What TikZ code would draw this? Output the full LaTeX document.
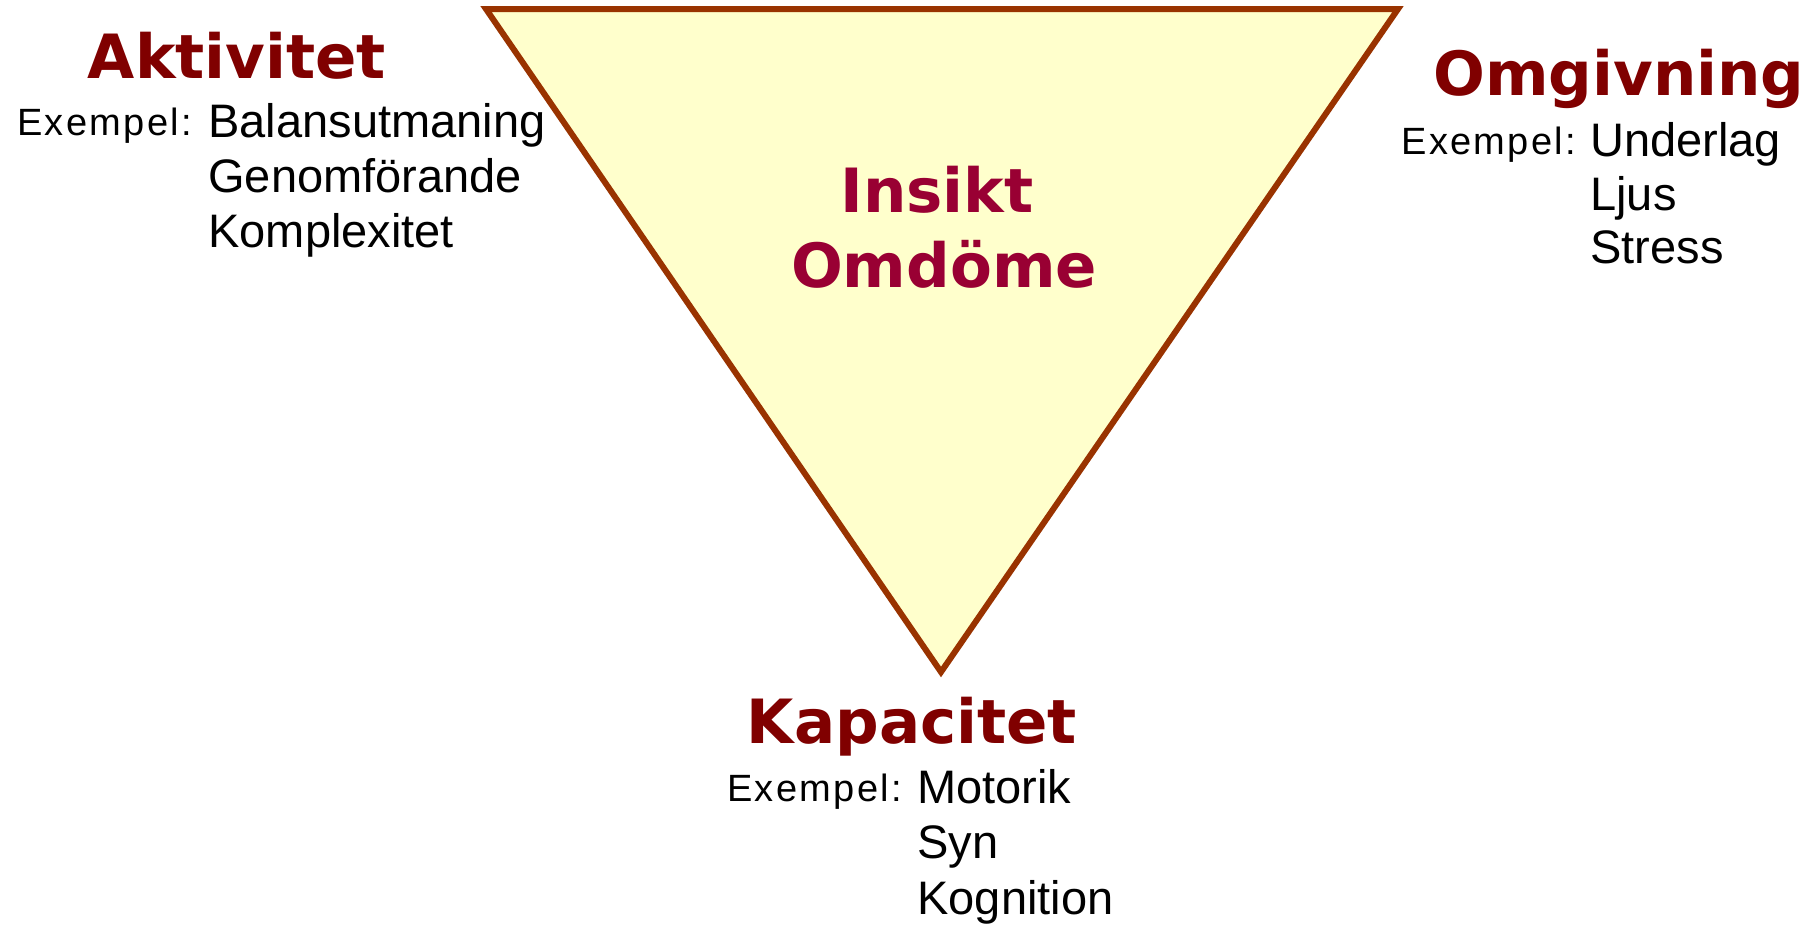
\documentclass[tikz,border=0pt]{standalone}
\usepackage{fontspec}
\newfontfamily\headfont{DejaVu Sans}
\newfontfamily\itemfont{Liberation Sans}
\newfontfamily\exfont[LetterSpace=6]{Liberation Sans}
\definecolor{headred}{HTML}{800000}
\definecolor{insred}{HTML}{990033}
\definecolor{tribrown}{HTML}{993300}
\definecolor{trifill}{HTML}{FFFFCC}
\begin{document}
\begin{tikzpicture}[x=0.5pt,y=-0.5pt,
  tri/.style={draw=tribrown, fill=trifill, line width=3pt, line join=miter},
  head/.style={anchor=base, text=headred, inner sep=0pt, font=\headfont\bfseries\fontsize{30.5}{36}\selectfont},
  ins/.style={anchor=base, text=insred, inner sep=0pt, font=\headfont\bfseries\fontsize{30.5}{36}\selectfont},
  ex/.style={anchor=base west, inner sep=0pt, font=\exfont\fontsize{19}{22}\selectfont},
  item/.style={anchor=base west, inner sep=0pt, font=\itemfont\fontsize{23.5}{28}\selectfont}]
\useasboundingbox (0,0) rectangle (1816,926);
\coordinate (tl) at (486,9);
\coordinate (tr) at (1398,9);
\coordinate (bt) at (941,672);
\draw[tri] (tl) -- (tr) -- (bt) -- cycle;
% centre
\node[ins] (insikt) at (937,212) {Insikt};
\node[ins] (omdome) at (944,287) {Omdöme};
% Aktivitet
\node[head] (akt) at (237,78) {Aktivitet};
\node[ex] (aktex) at (17,135) {Exempel:};
\node[item] (akt1) at (208,137) {Balansutmaning};
\node[item] (akt2) at (208,192) {Genomförande};
\node[item] (akt3) at (208,247) {Komplexitet};
% Omgivning
\node[head] (omg) at (1619,95) {Omgivning};
\node[ex] (omgex) at (1401,154) {Exempel:};
\node[item] (omg1) at (1590,156) {Underlag};
\node[item] (omg2) at (1590,210) {Ljus};
\node[item] (omg3) at (1590,263) {Stress};
% Kapacitet
\node[head] (kap) at (912,743) {Kapacitet};
\node[ex] (kapex) at (727,801) {Exempel:};
\node[item] (kap1) at (917,803) {Motorik};
\node[item] (kap2) at (917,858) {Syn};
\node[item] (kap3) at (917,914) {Kognition};
\end{tikzpicture}
\end{document}
